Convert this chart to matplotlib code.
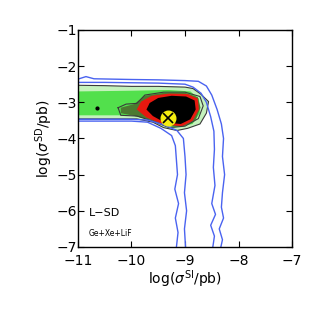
import matplotlib
matplotlib.use("Agg")
import matplotlib.pyplot as plt

# contour outlines (x = log sigma_SI, y = log sigma_SD)
blue1_top_x = [-11, -10.85, -10.7, -10.0, -9.5, -9.0, -8.75, -8.6, -8.5, -8.4, -8.32, -8.28, -8.3, -8.26, -8.3, -8.32, -8.28, -8.36, -8.3, -8.33]
blue1_top_y = [-2.36, -2.29, -2.35, -2.37, -2.38, -2.40, -2.42, -2.55, -2.8, -3.2, -3.6, -4.0, -4.5, -5.0, -5.5, -5.9, -6.2, -6.5, -6.8, -7.0]
blue1_low_x = [-11, -10.0, -9.7, -9.45, -9.25, -9.18, -9.16, -9.14, -9.19, -9.12, -9.18, -9.13, -9.16]
blue1_low_y = [-3.52, -3.52, -3.55, -3.72, -3.92, -4.2, -4.6, -5.0, -5.4, -5.8, -6.2, -6.6, -7.0]
blue2_top_x = [-11, -10.5, -9.5, -9.0, -8.85, -8.7, -8.6, -8.52, -8.46, -8.45, -8.47, -8.44, -8.5, -8.43, -8.52, -8.45, -8.48]
blue2_top_y = [-2.45, -2.45, -2.47, -2.5, -2.58, -2.75, -3.0, -3.4, -3.8, -4.3, -4.8, -5.3, -5.8, -6.1, -6.4, -6.7, -7.0]
blue2_low_x = [-11, -10.0, -9.7, -9.4, -9.15, -9.03, -9.0, -8.98, -9.01, -8.97, -9.01, -8.99]
blue2_low_y = [-3.47, -3.47, -3.49, -3.62, -3.78, -4.0, -4.5, -5.0, -5.5, -6.0, -6.5, -7.0]

black_out_x = [-11, -10.5, -10.0, -9.5, -9.0, -8.85, -8.7, -8.56, -8.6, -8.72, -8.95, -9.15, -9.4, -9.6, -9.9, -11]
black_out_y = [-2.53, -2.54, -2.56, -2.56, -2.58, -2.62, -2.78, -2.98, -3.3, -3.6, -3.72, -3.78, -3.7, -3.55, -3.46, -3.46]
black_in_x = [-10.25, -10.1, -9.9, -9.75, -9.4, -9.0, -8.72, -8.66, -8.75, -9.0, -9.3, -9.6, -9.9, -10.2, -10.25]
black_in_y = [-3.15, -3.05, -3.03, -2.8, -2.72, -2.72, -2.84, -3.1, -3.45, -3.66, -3.7, -3.52, -3.38, -3.36, -3.15]

# filled density layers, outermost first
pale_x = black_out_x
pale_y = black_out_y
green_x = [-11, -10.0, -9.3, -8.9, -8.74, -8.72, -8.86, -9.2, -9.6, -10.0, -11]
green_y = [-2.7, -2.68, -2.66, -2.7, -2.9, -3.3, -3.6, -3.7, -3.5, -3.36, -3.36]
dark_x = [-10.2, -9.95, -9.75, -9.4, -9.0, -8.76, -8.71, -8.8, -9.02, -9.35, -9.65, -10.0, -10.2]
dark_y = [-3.15, -3.05, -2.82, -2.74, -2.74, -2.86, -3.15, -3.48, -3.66, -3.66, -3.48, -3.36, -3.3]
red_x = [-9.82, -9.62, -9.3, -8.95, -8.76, -8.74, -8.86, -9.05, -9.4, -9.72, -9.9]
red_y = [-2.98, -2.82, -2.76, -2.77, -2.9, -3.2, -3.52, -3.66, -3.62, -3.42, -3.2]
core_x = [-9.66, -9.5, -9.25, -8.98, -8.82, -8.8, -8.9, -9.08, -9.38, -9.6, -9.72]
core_y = [-3.02, -2.88, -2.82, -2.84, -2.95, -3.2, -3.47, -3.6, -3.56, -3.38, -3.2]

best_fit = (-9.32, -3.44)
dot = (-10.65, -3.16)

fig = plt.figure(figsize=(3.22, 3.22), dpi=100)
ax = fig.add_axes([0.242, 0.233, 0.665, 0.674])

ax.fill(pale_x, pale_y, color='#c4f2bc', lw=0)
ax.fill(green_x, green_y, color='#52e04c', lw=0)
ax.fill(dark_x, dark_y, color='#4b7a30', lw=0)
ax.fill(red_x, red_y, color='#e8180f', lw=0)
ax.fill(core_x, core_y, color='black', lw=0)

ax.plot(black_out_x, black_out_y, color='#3a3a3a', lw=0.8)
ax.plot(black_in_x, black_in_y, color='#3a3a3a', lw=0.8)

blue = '#4a63f0'
for bx, by in [(blue1_top_x, blue1_top_y), (blue1_low_x, blue1_low_y),
               (blue2_top_x, blue2_top_y), (blue2_low_x, blue2_low_y)]:
    ax.plot(bx, by, color=blue, lw=1.0)

ax.plot(*dot, marker='o', color='black', ms=2)
ax.plot(*best_fit, marker='o', color='#f5ee10', ms=10.5, mec='#f5ee10')
ax.plot(*best_fit, marker='x', color='black', ms=6.5, mew=1.2)

ax.text(-10.8, -6.05, 'L\u2212SD', fontsize=8, va='center')
ax.text(-10.8, -6.62, 'Ge+Xe+LiF', fontsize=5.5, va='center')

ax.set_xlim(-11, -7)
ax.set_ylim(-7, -1)
ax.set_xticks([-11, -10, -9, -8, -7])
ax.set_yticks([-7, -6, -5, -4, -3, -2, -1])
ax.tick_params(direction='in', length=4, labelsize=10, top=True, right=True)
ax.tick_params(axis='x', pad=5)
ax.tick_params(axis='y', pad=1)
for s in ax.spines.values():
    s.set_linewidth(1.0)
ax.set_xlabel(r'log($\sigma^{\rm SI}$/pb)', fontsize=10, labelpad=0)
ax.set_ylabel(r'log($\sigma^{\rm SD}$/pb)', fontsize=10, labelpad=1)

fig.savefig('out.png', dpi=100)
